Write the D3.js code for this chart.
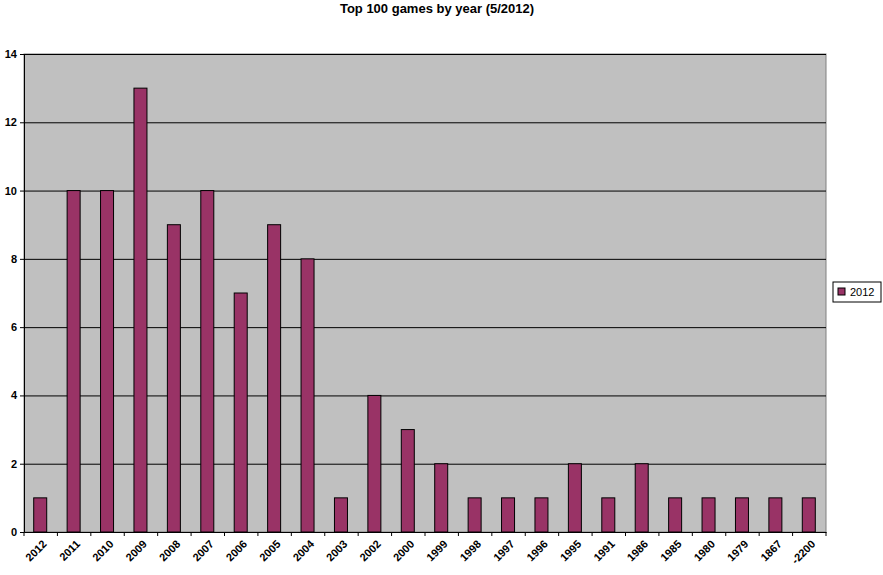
<!DOCTYPE html><html><head><meta charset="utf-8"><script src="https://d3js.org/d3.v7.min.js"></script>
<style>body{margin:0;background:#fff}svg{font-family:"Liberation Sans",Arial,sans-serif}</style></head><body><svg width="883" height="575"></svg>
<script>
const categories=["2012","2011","2010","2009","2008","2007","2006","2005","2004","2003","2002","2000","1999","1998","1997","1996","1995","1991","1986","1985","1980","1979","1867","-2200"];
const values=[1,10,10,13,9,10,7,9,8,1,4,3,2,1,1,1,2,1,2,1,1,1,1,1];
const yTicks=[0,2,4,6,8,10,12,14];
const seriesName="2012";
const svg=d3.select("svg");
const L=24,R=826,T=54,B=532;
const x=d3.scaleBand().domain(categories).range([L,R]);
const y=d3.scaleLinear().domain([0,14]).range([B,T]);
svg.append("rect").attr("x",L).attr("y",T).attr("width",R-L).attr("height",B-T).attr("fill","#c0c0c0").attr("stroke","#808080");
svg.append("g").selectAll("line").data(yTicks.slice(1)).join("line").attr("x1",L).attr("x2",R).attr("y1",d=>y(d)+0.5).attr("y2",d=>y(d)+0.5).attr("stroke","#000");
svg.append("g").selectAll("rect").data(values).join("rect")
 .attr("x",(d,i)=>x(categories[i])+x.bandwidth()/2-7).attr("width",13)
 .attr("y",d=>y(d)).attr("height",d=>B-y(d)).attr("fill","#993366").attr("stroke","#000");
const ya=svg.append("g").attr("transform",`translate(${L},0)`).call(d3.axisLeft(y).tickValues(yTicks).tickSize(4).tickFormat(d3.format("d")));
ya.select(".domain").attr("stroke","#000");
ya.selectAll("text").attr("font-size",11).attr("font-weight","bold");
const xa=svg.append("g").attr("transform",`translate(0,${B})`).call(d3.axisBottom(x).tickSize(0).tickFormat(""));
xa.select(".domain").attr("stroke","#000");
xa.selectAll(".tk").data(d3.range(categories.length+1)).join("line").attr("class","tk").attr("x1",i=>L+i*x.step()).attr("x2",i=>L+i*x.step()).attr("y1",0).attr("y2",4).attr("stroke","#000");
svg.append("g").selectAll("text").data(categories).join("text")
 .attr("transform",d=>`translate(${x(d)+x.bandwidth()/2+4},${B+10}) rotate(-45)`)
 .attr("text-anchor","end").attr("dy","0.35em").attr("font-size",11).attr("font-weight","bold").text(d=>d);
svg.append("text").attr("x",437).attr("y",13).attr("text-anchor","middle").attr("font-size",13).attr("font-weight","bold").text("Top 100 games by year (5/2012)");
const lg=svg.append("g");
lg.append("rect").attr("x",833).attr("y",282).attr("width",48).attr("height",20).attr("fill","#fff").attr("stroke","#000");
lg.append("rect").attr("x",838).attr("y",288).attr("width",7).attr("height",7).attr("fill","#993366").attr("stroke","#000");
lg.append("text").attr("x",850).attr("y",296).attr("font-size",11).text(seriesName);
</script></body></html>
